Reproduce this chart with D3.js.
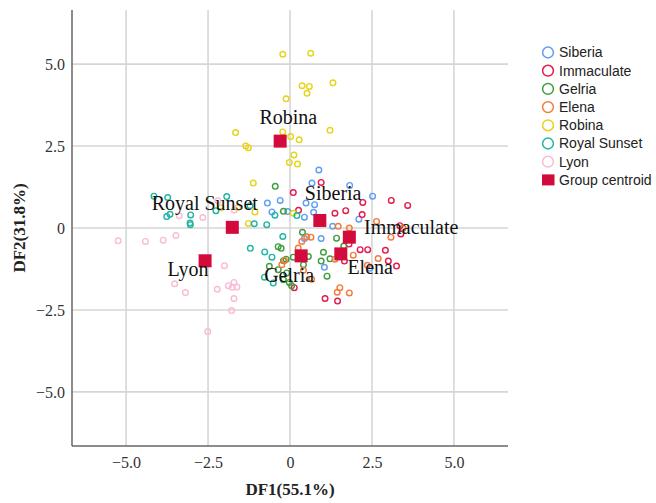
<!DOCTYPE html>
<html>
<head>
<meta charset="utf-8">
<script src="https://cdn.jsdelivr.net/npm/d3@7"></script>
<style>
  html, body { margin: 0; padding: 0; background: #fff; }
  svg { display: block; }
</style>
</head>
<body>
<svg id="chart" width="656" height="503"></svg>
<script>
// group names, in legend order
const groups = ['Siberia', 'Immaculate', 'Gelria', 'Elena', 'Robina', 'Royal Sunset', 'Lyon']

// discriminant scores [DF1, DF2] per group
const siberia = [[0.88,1.77],[0.67,1.37],[1.82,1.30],[2.52,0.97],[0.75,0.71],[0.49,0.76],[0.44,0.33],[0.72,0.48],
  [2.10,0.27],[1.30,0.05],[0.95,-0.32],[0.44,-0.32],[-0.69,0.76],[-0.30,0.84],[-0.55,0.49],[-0.07,0.50],[1.05,-1.20],[2.44,-1.23]]
const immaculate = [[0.95,1.39],[0.10,1.08],[2.22,0.78],[3.09,0.84],[3.59,0.69],[1.37,0.45],[1.70,0.53],[0.26,0.54],
  [2.20,0.41],[3.35,0.07],[3.38,-0.18],[2.14,-0.66],[2.37,-0.66],[2.91,-0.68],[3.00,-1.01],[3.25,-1.16],[1.66,-1.01],
  [0.13,-1.82],[1.07,-2.15],[1.45,-2.23],[1.80,-0.49]]
const gelria = [[-0.45,1.27],[-0.20,0.51],[0.38,-0.13],[-0.36,-0.57],[-0.27,-0.62],[-0.12,-0.95],[-0.20,-1.00],[-0.63,-1.17],
  [0.10,-0.89],[0.56,-0.87],[1.02,-0.74],[0.95,-1.01],[1.22,-0.94],[1.13,-1.47],[-0.36,-1.27],[-0.10,-1.37],[-0.02,-1.66],
  [0.05,-1.76],[-0.20,-1.58],[0.41,-1.12],[1.42,-0.31],[1.64,-0.55]]
const elena = [[0.51,-0.27],[0.64,-0.28],[1.47,0.05],[1.81,0.00],[2.64,0.20],[3.08,-0.28],[3.45,0.00],[2.69,-0.93],
  [1.93,-0.83],[2.36,-1.14],[1.52,-1.82],[1.44,-1.96],[1.81,-1.98],[1.37,-0.95],[0.25,-0.61],[0.36,-0.41],[-0.25,-1.12],
  [-0.17,-0.99],[0.41,-1.29],[0.66,-1.56]]
const robina = [[-0.22,5.30],[0.63,5.33],[0.37,4.34],[0.59,4.32],[0.52,4.11],[1.31,4.43],[-0.12,3.94],[-1.66,2.91],
  [-0.22,2.93],[0.02,2.79],[0.28,2.69],[1.22,2.98],[-1.35,2.50],[-1.27,2.45],[0.12,2.23],[-0.02,2.00],[0.23,1.95],
  [-1.12,1.37],[-2.11,0.62],[-1.59,0.62],[-1.07,0.49],[-1.27,0.14],[0.10,0.45]]
const royalSunset = [[-4.15,0.97],[-3.73,0.93],[-1.93,0.96],[-3.76,0.35],[-3.66,0.42],[-3.03,0.40],[-3.05,0.15],[-3.04,0.10],
  [-2.26,0.53],[-1.22,0.68],[-1.09,0.13],[-0.71,0.10],[-0.46,0.39],[0.21,0.38],[-0.22,-0.26],[-1.21,-0.62],[-0.77,-0.73],
  [-0.55,-0.89],[-0.78,-1.50],[-0.51,-1.68]]
const lyon = [[-5.24,-0.39],[-4.41,-0.41],[-3.87,-0.37],[-3.48,-0.23],[-3.38,0.37],[-2.66,0.32],[-2.20,0.83],[-1.70,0.55],
  [-2.00,-1.15],[-3.52,-1.70],[-3.19,-1.97],[-2.22,-1.87],[-1.88,-1.76],[-1.71,-1.66],[-1.76,-1.81],[-1.62,-1.80],
  [-1.71,-2.15],[-1.78,-2.52],[-2.51,-3.16]]

const groupPoints = [siberia, immaculate, gelria, elena, robina, royalSunset, lyon]

// group centroids
const centroidX = [0.91, 1.81, 0.34, 1.55, -0.30, -1.76, -2.59]
const centroidY = [0.23, -0.28, -0.85, -0.79, 2.65, 0.02, -1.00]

const ticks = [-5, -2.5, 0, 2.5, 5]

// styling
const colors = ['#5f9ef2', '#e31a4b', '#3f9e3c', '#f47a3a', '#e6d41a', '#1fb6a3', '#f8bcd6']
const centroidColor = '#d30a3c'
// label anchor offsets from each centroid, in px
const labelDx = [-15, 14.7, -37, 6.6, -20.7, -80.6, -37.7]
const labelDy = [-20.7, -3.3, 25.7, 20.3, -17, -17, 15.7]

const svg = d3.select('#chart')
const plotL = 72, plotR = 508, plotT = 10, plotB = 446

const x = d3.scaleLinear().domain([-6.65, 6.65]).range([plotL, plotR])
const y = d3.scaleLinear().domain([-6.65, 6.65]).range([plotB, plotT])

const fmt = d => d === 0 ? '0' : d3.format('.1f')(d).replace('-', '\u2212')

// grid
svg.append('g')
  .selectAll('line')
  .data(ticks)
  .join('line')
  .attr('x1', d => x(d)).attr('x2', d => x(d))
  .attr('y1', plotT).attr('y2', plotB)
  .attr('stroke', '#d6d6d6').attr('stroke-width', 1.6)

svg.append('g')
  .selectAll('line')
  .data(ticks)
  .join('line')
  .attr('y1', d => y(d)).attr('y2', d => y(d))
  .attr('x1', plotL).attr('x2', plotR)
  .attr('stroke', '#d6d6d6').attr('stroke-width', 1.6)

// axes
const xAxis = svg.append('g')
  .attr('transform', `translate(0,${plotB})`)
  .call(d3.axisBottom(x).tickValues(ticks).tickFormat(fmt).tickSize(0).tickPadding(11))
const yAxis = svg.append('g')
  .attr('transform', `translate(${plotL},0)`)
  .call(d3.axisLeft(y).tickValues(ticks).tickFormat(fmt).tickSize(0).tickPadding(7))

;[xAxis, yAxis].forEach(g => {
  g.select('.domain').remove()
  g.selectAll('text')
    .attr('font-family', '"Liberation Serif", "Times New Roman", serif')
    .attr('font-size', 16)
    .attr('fill', '#333')
})
xAxis.selectAll('text').attr('dy', '0.71em')

svg.append('line')
  .attr('x1', plotL).attr('x2', plotL).attr('y1', plotT).attr('y2', plotB)
  .attr('stroke', '#666').attr('stroke-width', 1.5)
svg.append('line')
  .attr('x1', plotL).attr('x2', plotR).attr('y1', plotB).attr('y2', plotB)
  .attr('stroke', '#666').attr('stroke-width', 1.5)

// axis titles
svg.append('text')
  .attr('x', (plotL + plotR) / 2).attr('y', 495)
  .attr('text-anchor', 'middle')
  .attr('font-family', '"Liberation Serif", "Times New Roman", serif')
  .attr('font-weight', 'bold').attr('font-size', 17)
  .attr('fill', '#222')
  .text('DF1(55.1%)')

svg.append('text')
  .attr('transform', `translate(25,${y(0)}) rotate(-90)`)
  .attr('text-anchor', 'middle')
  .attr('font-family', '"Liberation Serif", "Times New Roman", serif')
  .attr('font-weight', 'bold').attr('font-size', 17)
  .attr('fill', '#222')
  .text('DF2(31.8%)')

// points
groupPoints.forEach((pts, i) => {
  svg.append('g')
    .selectAll('circle')
    .data(pts)
    .join('circle')
    .attr('cx', d => x(d[0]))
    .attr('cy', d => y(d[1]))
    .attr('r', 2.8)
    .attr('fill', 'none')
    .attr('stroke', colors[i])
    .attr('stroke-width', 1.4)
})

// centroids
const cSize = 13
svg.append('g')
  .selectAll('rect')
  .data(groups)
  .join('rect')
  .attr('x', (d, i) => x(centroidX[i]) - cSize / 2)
  .attr('y', (d, i) => y(centroidY[i]) - cSize / 2)
  .attr('width', cSize).attr('height', cSize)
  .attr('fill', centroidColor)

// group labels
svg.append('g')
  .selectAll('text')
  .data(groups)
  .join('text')
  .attr('x', (d, i) => x(centroidX[i]) + labelDx[i])
  .attr('y', (d, i) => y(centroidY[i]) + labelDy[i])
  .attr('font-family', '"Liberation Serif", "Times New Roman", serif')
  .attr('font-size', 20)
  .attr('fill', '#111')
  .text(d => d)

// legend
const legend = svg.append('g').attr('transform', 'translate(548,52.5)')
const rowH = 18.2
const legendItems = groups.concat(['Group centroid'])
legendItems.forEach((name, i) => {
  const row = legend.append('g').attr('transform', `translate(0,${i * rowH})`)
  if (i < groups.length) {
    row.append('circle')
      .attr('r', 5.4)
      .attr('fill', 'none')
      .attr('stroke', colors[i])
      .attr('stroke-width', 1.5)
  } else {
    row.append('rect')
      .attr('x', -6).attr('y', -5.5)
      .attr('width', 12.5).attr('height', 11)
      .attr('fill', centroidColor)
  }
  row.append('text')
    .attr('x', 11)
    .attr('y', 0)
    .attr('dy', '0.35em')
    .attr('font-family', '"Liberation Sans", Arial, sans-serif')
    .attr('font-size', 14)
    .attr('fill', '#222')
    .text(name)
})
</script>
</body>
</html>
